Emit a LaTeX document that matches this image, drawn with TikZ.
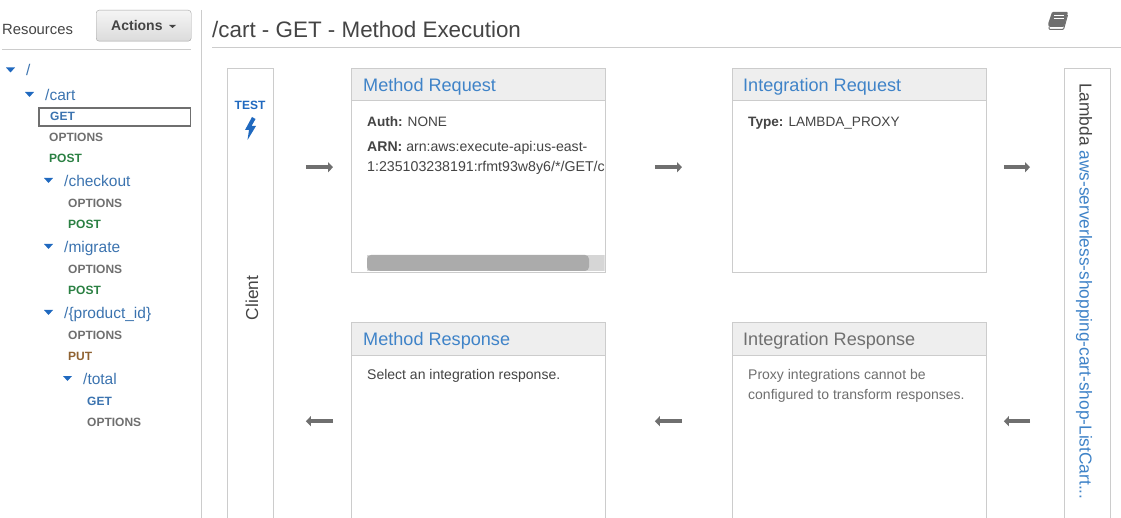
\documentclass[tikz,border=0pt]{standalone}
\usepackage{fontspec}
\setmainfont{Liberation Sans}
\usetikzlibrary{arrows.meta}
\definecolor{boxline}{HTML}{CCCCCC}
\definecolor{headbg}{HTML}{EEEEEE}
\definecolor{linkblue}{HTML}{3F83C8}
\definecolor{treeblue}{HTML}{3B73AF}
\definecolor{toggleblue}{HTML}{2069BF}
\definecolor{methodgray}{HTML}{6F6F6F}
\definecolor{postgreen}{HTML}{2B8043}
\definecolor{putbrown}{HTML}{8F6232}
\definecolor{textdark}{HTML}{444444}
\tikzset{
  fs/.style={font=\fontsize{#1}{#1}\selectfont},
  plain/.style={anchor=base west, inner sep=0pt, text=textdark, fs=14},
  treepath/.style={anchor=base west, inner sep=0pt, text=treeblue, fs=15.5},
  httpverb/.style={anchor=base west, inner sep=0pt, font=\fontsize{12}{12}\selectfont\bfseries},
  cardbox/.style={draw=boxline, fill=white, anchor=north west, minimum width=253.5pt, minimum height=204pt, inner sep=0pt},
  cardhead/.style={draw=boxline, fill=headbg, anchor=north west, minimum width=253.5pt, minimum height=32.5pt, inner sep=0pt},
  cardtitle/.style={anchor=base west, inner sep=0pt, text=linkblue, fs=18.1},
  sidebox/.style={draw=boxline, fill=white, anchor=north west, minimum width=45.5pt, minimum height=458pt, inner sep=0pt},
  flowarrow/.style={draw=methodgray, fill=methodgray, line width=3.5pt, -{Triangle[length=5pt,width=10pt]}},
  toggle/.style={fill=toggleblue},
  rulegray/.style={draw=boxline, line width=1pt}
}
\newcommand{\treetoggle}[2]{\fill[toggle] (#1-4.5,#2-2.5) -- (#1+4.5,#2-2.5) -- (#1,#2+2.5) -- cycle;}
\begin{document}
\begin{tikzpicture}[x=1pt,y=-1pt]
    \useasboundingbox (0,0) rectangle (1121,518);
    \clip (0,0) rectangle (1121,518);
    % left panel
    \node (resources) [plain, fs=14.8] at (2,35) {Resources};
    \node (actions) [draw=boxline!80!black, rounded corners=3pt, top color=white!96!black, bottom color=white!86!black, anchor=north west, minimum width=95pt, minimum height=31pt, inner sep=0pt] at (96,10) {};
    \node (actionstext) [anchor=base west, inner sep=0pt, text=textdark, font=\fontsize{14}{14}\selectfont\bfseries] at (111,31) {Actions};
    \fill[textdark] (169,25) -- (176,25) -- (172.5,28) -- cycle;
    \coordinate (resleft) at (2,49.5);
    \coordinate (resright) at (191,49.5);
    \draw[rulegray] (resleft) -- (resright);
    \coordinate (divtop) at (201.5,10);
    \coordinate (divbottom) at (201.5,518);
    \draw[rulegray] (divtop) -- (divbottom);
    % resource tree
    \treetoggle{10.5}{70}
    \node (root) [treepath] at (26,75.5) {/};
    \treetoggle{29.5}{94.5}
    \node (cart) [treepath] at (45,100.5) {/cart};
    \node (selected) [draw=methodgray, line width=1.6pt, anchor=north west, minimum width=151.5pt, minimum height=18pt, inner sep=0pt] at (38,107) {};
    \node (cartget) [httpverb, text=treeblue] at (50,120.5) {GET};
    \node (cartoptions) [httpverb, text=methodgray] at (49,141.5) {OPTIONS};
    \node (cartpost) [httpverb, text=postgreen] at (49,162.5) {POST};
    \treetoggle{48.5}{180.5}
    \node (checkout) [treepath] at (64,186.5) {/checkout};
    \node (checkoutoptions) [httpverb, text=methodgray] at (68,207.5) {OPTIONS};
    \node (checkoutpost) [httpverb, text=postgreen] at (68,228.5) {POST};
    \treetoggle{48.5}{246.5}
    \node (migrate) [treepath] at (64,252.5) {/migrate};
    \node (migrateoptions) [httpverb, text=methodgray] at (68,273.5) {OPTIONS};
    \node (migratepost) [httpverb, text=postgreen] at (68,294.5) {POST};
    \treetoggle{48.5}{312.5}
    \node (productid) [treepath] at (64,318.5) {/\{product\_id\}};
    \node (productoptions) [httpverb, text=methodgray] at (68,339.5) {OPTIONS};
    \node (productput) [httpverb, text=putbrown] at (68,360.5) {PUT};
    \treetoggle{67.5}{378.5}
    \node (total) [treepath] at (83,384.5) {/total};
    \node (totalget) [httpverb, text=treeblue] at (87,405.5) {GET};
    \node (totaloptions) [httpverb, text=methodgray] at (87,426.5) {OPTIONS};
    % title
    \node (title) [anchor=base west, inner sep=0pt, text=textdark, fs=22.4] at (212,37.5) {/cart - GET - Method Execution};
    \coordinate (titleleft) at (212,47.5);
    \coordinate (titleright) at (1121,47.5);
    \draw[rulegray] (titleleft) -- (titleright);
    % book icon
    \fill[methodgray, rounded corners=1pt] (1052,12) -- (1068,12) -- (1064,27) -- (1049,27) -- (1048,24) -- cycle;
    \draw[methodgray, line width=1pt, rounded corners=1pt] (1049,27) -- (1049,29.5) -- (1063.5,29.5) -- (1067.5,15);
    \draw[white, line width=0.8pt] (1054,15.5) -- (1064,15.5) (1053.5,18) -- (1063.5,18);
    % client and lambda
    \node (client) [sidebox] at (227,68) {};
    \node (clientlabel) [rotate=90, inner sep=0pt, text=textdark, fs=17.3] at (252,298) {Client};
    \node (testlabel) [anchor=base, inner sep=0pt, text=toggleblue, font=\fontsize{12}{12}\selectfont\bfseries] at (250,110) {TEST};
    \fill[toggleblue] (252,117) -- (245,130) -- (249,130) -- (247.5,140) -- (256,126) -- (251.5,126) -- (255.5,119) -- cycle;
    \node (lambda) [sidebox] at (1064,68) {};
    \node (lambdalabel) [rotate=-90, anchor=west, inner sep=0pt, text=textdark, fs=17.3] at (1084,83) {Lambda \textcolor{linkblue}{aws-serverless-shopping-cart-shop-ListCart...}};
    % method request
    \node (mreq) [cardbox] at (351,68) {};
    \begin{scope}
      \clip (351,68) rectangle (604.5,271.5);
      \fill[headbg!90!black] (367,255) rectangle (604.5,271);
      \fill[black!33, rounded corners=4pt] (367,255) rectangle (589,271);
      \node (mreqarn) [plain, fs=14.1] at (367,152) {\textbf{ARN:} arn:aws:execute-api:us-east-};
      \node (mreqarnb) [plain, fs=14.2] at (367,172) {1:235103238191:rfmt93w8y6/*/GET/cart};
    \end{scope}
    \node (mreqhead) [cardhead] at (351,68) {};
    \node (mreqtitle) [cardtitle] at (363,91.5) {Method Request};
    \node (mreqauth) [plain, fs=13.6] at (367,126.5) {\textbf{Auth:} NONE};
    % integration request
    \node (ireq) [cardbox] at (732,68) {};
    \node (ireqhead) [cardhead] at (732,68) {};
    \node (ireqtitle) [cardtitle] at (743,91.5) {Integration Request};
    \node (ireqtype) [plain, fs=13.6] at (748,126.5) {\textbf{Type:} LAMBDA\_PROXY};
    % method response
    \node (mres) [cardbox] at (351,322) {};
    \node (mreshead) [cardhead] at (351,322) {};
    \node (mrestitle) [cardtitle] at (363,345.5) {Method Response};
    \node (mresbody) [plain] at (367,379) {Select an integration response.};
    % integration response
    \node (ires) [cardbox] at (732,322) {};
    \node (ireshead) [cardhead] at (732,322) {};
    \node (irestitle) [cardtitle, text=methodgray] at (743,345.5) {Integration Response};
    \node (iresbodya) [plain, text=methodgray] at (748,379) {Proxy integrations cannot be};
    \node (iresbodyb) [plain, text=methodgray] at (748,399) {configured to transform responses.};
    % arrows
    \draw[flowarrow, shorten <=33pt, shorten >=18pt] ([yshift=3pt]mreq.west -| client.east) -- ([yshift=3pt]mreq.west);
    \draw[flowarrow, shorten <=50pt, shorten >=50pt] ([yshift=3pt]mreq.east) -- ([yshift=3pt]ireq.west);
    \draw[flowarrow, shorten <=18pt, shorten >=34pt] ([yshift=3pt]ireq.east) -- ([yshift=3pt]ireq.east -| lambda.west);
    \draw[flowarrow, shorten <=34pt, shorten >=18pt] ([yshift=3pt]ires.east -| lambda.west) -- ([yshift=3pt]ires.east);
    \draw[flowarrow, shorten <=50pt, shorten >=50pt] ([yshift=3pt]ires.west) -- ([yshift=3pt]mres.east);
    \draw[flowarrow, shorten <=18pt, shorten >=33pt] ([yshift=3pt]mres.west) -- ([yshift=3pt]mres.west -| client.east);
\end{tikzpicture}
\end{document}
